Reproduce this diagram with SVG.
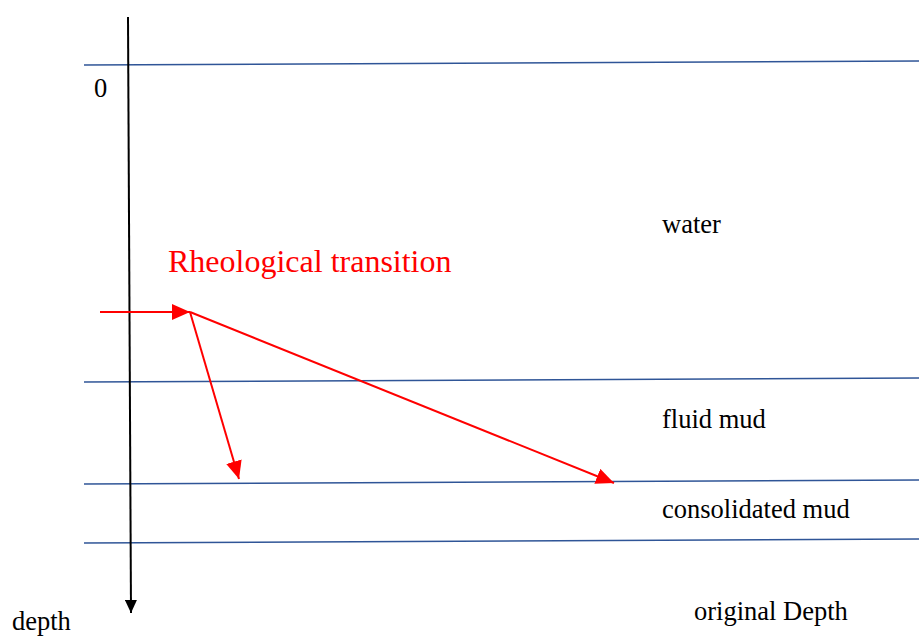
<svg xmlns="http://www.w3.org/2000/svg" width="919" height="637" viewBox="0 0 919 637">
<style>
.t{font-family:"Liberation Serif","Times New Roman",serif;font-size:26.5px;fill:#000}
.rt{font-family:"Liberation Serif","Times New Roman",serif;font-size:32px;fill:#FF0000}
.layer{stroke:#2F5597;stroke-width:1.5;fill:none}
.red{stroke:#FF0000;stroke-width:2;fill:none}
</style>
<defs>
<marker id="ra" markerUnits="userSpaceOnUse" markerWidth="20" markerHeight="16" refX="18" refY="8" orient="auto">
<path d="M0,0 L18,8 L0,16 Z" fill="#FF0000"/>
</marker>
<marker id="ka" markerUnits="userSpaceOnUse" markerWidth="14" markerHeight="12" refX="13" refY="6" orient="auto">
<path d="M0,0 L13,6 L0,12 Z" fill="#000"/>
</marker>
</defs>
<g id="layers">
<line class="layer" x1="84" y1="65" x2="919" y2="61"/>
<line class="layer" x1="84" y1="382" x2="919" y2="378"/>
<line class="layer" x1="84" y1="484" x2="919" y2="480"/>
<line class="layer" x1="84" y1="543" x2="919" y2="539"/>
</g>
<g id="connectors">
<line x1="128" y1="17" x2="131" y2="613" stroke="#000" stroke-width="2" marker-end="url(#ka)"/>
<line class="red" x1="100" y1="312" x2="190" y2="312" marker-end="url(#ra)"/>
<line class="red" x1="190" y1="312" x2="239" y2="479" marker-end="url(#ra)"/>
<line class="red" x1="190" y1="312" x2="614" y2="483" marker-end="url(#ra)"/>
</g>
<g id="labels">
<text class="t" x="94" y="97">0</text>
<text class="t" x="662" y="233">water</text>
<text class="rt" x="168" y="272">Rheological transition</text>
<text class="t" x="662" y="428">fluid mud</text>
<text class="t" x="662" y="518">consolidated mud</text>
<text class="t" x="694" y="620">original Depth</text>
<text class="t" x="12" y="630">depth</text>
</g>
</svg>
